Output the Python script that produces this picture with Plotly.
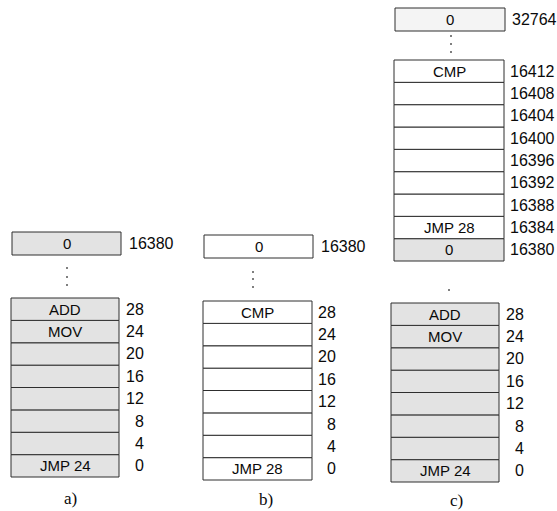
import plotly.graph_objects as go

# memory contents, bottom word first
addr_low = [0, 4, 8, 12, 16, 20, 24, 28]
words_a = ["JMP 24", "", "", "", "", "", "MOV", "ADD"]
words_b = ["JMP 28", "", "", "", "", "", "", "CMP"]
addr_high = [16380, 16384, 16388, 16392, 16396, 16400, 16404, 16408, 16412]
words_c_high = ["0", "JMP 28", "", "", "", "", "", "", "CMP"]
words_c_low = ["JMP 24", "", "", "", "", "", "MOV", "ADD"]
top_addr = [16380, 16380, 32764]
top_word = ["0", "0", "0"]
captions = ["a)", "b)", "c)"]

SHADE = "#e3e3e3"
EDGE = "#2e2e2e"
SANS = "Liberation Sans, Arial, sans-serif"
SERIF = "Liberation Serif, Times New Roman, serif"

fig = go.Figure()


def text(x, y, s, anchor="center", size=15, family=SANS):
    fig.add_annotation(x=x, y=y, text=s, showarrow=False, xanchor=anchor, yanchor="middle",
                       font=dict(family=family, size=size, color="#0a0a0a"))


def column(words, addrs, x0, x1, y_top, y_bot, fills, label_x, label_anchor, size=16):
    h = (y_bot - y_top) / len(words)
    for i, (w, a) in enumerate(zip(words, addrs)):
        yb = y_bot - i * h
        yt = yb - h
        fig.add_shape(type="rect", x0=x0, x1=x1, y0=yt, y1=yb, layer="below",
                      line=dict(color=EDGE, width=1), fillcolor=fills[i])
        if w:
            text((x0 + x1) / 2, (yt + yb) / 2, w)
        text(label_x, (yt + yb) / 2, str(a), anchor=label_anchor, size=size)


def top_box(word, addr, x0, x1, y0, y1, fill, label_x, size=16):
    fig.add_shape(type="rect", x0=x0, x1=x1, y0=y0, y1=y1, layer="below",
                  line=dict(color=EDGE, width=1), fillcolor=fill)
    text((x0 + x1) / 2, (y0 + y1) / 2, word)
    text(label_x, (y0 + y1) / 2, str(addr), anchor="left", size=size)


def dots(x, ys):
    fig.add_trace(go.Scatter(x=[x] * len(ys), y=ys, mode="markers", hoverinfo="skip",
                             marker=dict(size=2, color="#555")))


# a)
top_box(top_word[0], top_addr[0], 12, 121, 232, 255, SHADE, 127)
dots(67, [268, 277, 285])
column(words_a, addr_low, 11, 119, 298, 477, [SHADE] * 8, 146, "right")
text(70, 498, captions[0], size=17, family=SERIF)

# b)
top_box(top_word[1], top_addr[1], 204, 313, 235, 258, "white", 319)
dots(253, [272, 279, 287])
column(words_b, addr_low, 203, 312, 301, 480, ["white"] * 8, 338, "right")
text(266, 499, captions[1], size=17, family=SERIF)

# c)
top_box(top_word[2], top_addr[2], 395, 505, 8, 31, "#f4f4f4", 510)
dots(451, [36, 44, 52])
column(words_c_high, addr_high, 394, 504, 60, 261, [SHADE] + ["white"] * 8, 508, "left")
dots(449, [290])
column(words_c_low, addr_low, 391, 499, 303, 482, [SHADE] * 8, 526, "right")
text(456, 500, captions[2], size=17, family=SERIF)

fig.update_xaxes(range=[0, 557], visible=False)
fig.update_yaxes(range=[511, 0], visible=False)
fig.update_layout(width=557, height=511, margin=dict(l=0, r=0, t=0, b=0),
                  plot_bgcolor="white", paper_bgcolor="white", showlegend=False)
fig.write_html("out.html", config={"displayModeBar": False},
               post_script="document.body.style.margin='0';")
